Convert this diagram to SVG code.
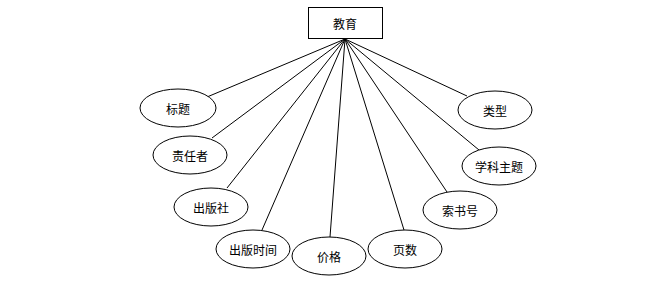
<svg xmlns="http://www.w3.org/2000/svg" width="646" height="284" viewBox="0 0 646 284">
<style>
.n rect,.n ellipse{fill:#fff;stroke:#000;stroke-width:1}
.n text{font-family:"Noto Sans CJK SC","Liberation Sans",sans-serif;font-size:12px;text-anchor:middle;dominant-baseline:central;fill:#000}
#edges line{stroke:#000;stroke-width:1}
</style>
<rect width="646" height="284" fill="#fff"/>
<g id="edges">
<line x1="345" y1="39" x2="207" y2="97"/>
<line x1="345" y1="39" x2="212" y2="138"/>
<line x1="345" y1="39" x2="227" y2="188"/>
<line x1="345" y1="39" x2="262" y2="230"/>
<line x1="345" y1="39" x2="330" y2="237"/>
<line x1="345" y1="39" x2="404" y2="230"/>
<line x1="345" y1="39" x2="447" y2="192"/>
<line x1="345" y1="39" x2="479" y2="150"/>
<line x1="345" y1="39" x2="467" y2="96"/>
</g>
<g id="edu" class="n"><rect x="308.5" y="7.5" width="74" height="31"/><text x="345" y="23">教育</text></g>
<g id="title" class="n"><ellipse cx="178" cy="108" rx="38" ry="19"/><text x="178" y="108">标题</text></g>
<g id="author" class="n"><ellipse cx="190" cy="155" rx="37" ry="19"/><text x="190" y="155">责任者</text></g>
<g id="publisher" class="n"><ellipse cx="211" cy="207" rx="37" ry="19"/><text x="211" y="207">出版社</text></g>
<g id="pubtime" class="n"><ellipse cx="253" cy="249" rx="37" ry="19"/><text x="253" y="249">出版时间</text></g>
<g id="price" class="n"><ellipse cx="329" cy="256" rx="37" ry="19"/><text x="329" y="256">价格</text></g>
<g id="pages" class="n"><ellipse cx="405" cy="249" rx="37" ry="19"/><text x="405" y="249">页数</text></g>
<g id="callno" class="n"><ellipse cx="460" cy="210" rx="37" ry="19"/><text x="460" y="210">索书号</text></g>
<g id="subject" class="n"><ellipse cx="499" cy="166" rx="37" ry="19"/><text x="499" y="166">学科主题</text></g>
<g id="type" class="n"><ellipse cx="495" cy="110" rx="37" ry="19"/><text x="495" y="110">类型</text></g>
</svg>
